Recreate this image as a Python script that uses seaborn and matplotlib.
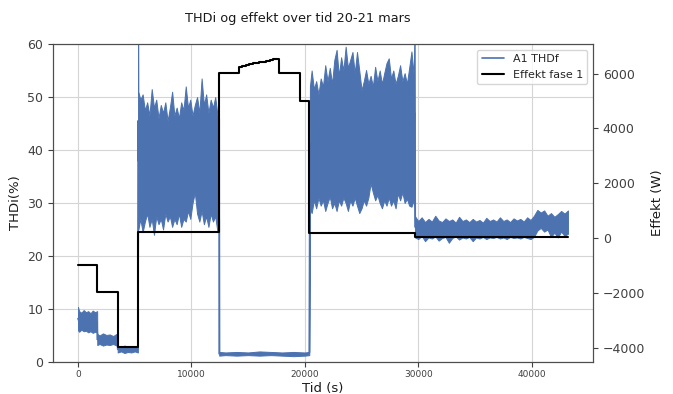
import numpy as np
import pandas as pd
import matplotlib
matplotlib.use("Agg")
import matplotlib.pyplot as plt
import seaborn as sns

# THD measurements: time (s) with lower / upper envelope of the fast-varying signal (%)
thd_t = [0, 100, 300, 500, 700, 900, 1100, 1300, 1500, 1690,
         1700, 1900, 2200, 2500, 2800, 3100, 3400, 3490,
         3500, 3800, 4100, 4400, 4700, 5000, 5280,
         5300, 5320, 5500, 5700, 5900, 6100, 6300, 6500, 6700, 6900, 7100, 7300, 7500,
         7700, 7900, 8100, 8300, 8500, 8700, 8900, 9100, 9300, 9500, 9700, 9900,
         10100, 10300, 10500, 10700, 10900, 11100, 11300, 11500, 11700, 11900,
         12100, 12300, 12440,
         12450, 13000, 14000, 15000, 16000, 17000, 18000, 19000, 20000, 20390,
         20450, 20600, 20800, 21000, 21200, 21400, 21600, 21800, 22000, 22200,
         22400, 22600, 22800, 23000, 23200, 23400, 23600, 23800, 24000, 24200,
         24400, 24600, 24800, 25000, 25200, 25400, 25600, 25800, 26000, 26200,
         26400, 26600, 26800, 27000, 27200, 27400, 27600, 27800, 28000, 28200,
         28400, 28600, 28800, 29000, 29200, 29400, 29600, 29680,
         29720, 30000, 30300, 30600, 30900, 31200, 31500, 31800, 32100, 32400,
         32700, 33000, 33300, 33600, 33900, 34200, 34500, 34800, 35100, 35400,
         35700, 36000, 36300, 36600, 36900, 37200, 37500, 37800, 38100, 38400,
         38700, 39000, 39300, 39600, 39900, 40200, 40500, 40800, 41100, 41400,
         41700, 42000, 42300, 42600, 42900, 43200]
thd_hi = [10.4, 9.6, 9.3, 9.8, 9.4, 9.6, 9.2, 9.7, 9.4, 9.6,
          5.3, 5.0, 5.4, 5.1, 5.2, 4.9, 5.3, 5.2,
          3.0, 2.8, 3.1, 2.9, 3.0, 2.8, 3.0,
          65, 51, 49.5, 50.5, 47.5, 49, 46.5, 51.5, 48, 49.5, 46, 48.5, 47,
          49, 45.5, 48, 51, 46.5, 48, 46, 49, 47.5, 52, 48, 49.5,
          46.5, 48.5, 50, 47, 53.5, 48.5, 50.5, 47, 49.5, 48,
          50, 46.5, 46,
          1.9, 1.8, 1.9, 1.8, 2.0, 1.9, 1.8, 1.9, 1.8, 1.9,
          52, 55, 51.5, 53, 50.5, 53.5, 52, 56, 53, 55.5,
          52.5, 57, 58.9, 54, 57.5, 55, 59.5, 55.5, 57, 58.5,
          54.5, 58.5, 55, 51.3, 53, 55.1, 52.5, 54, 52, 55.7,
          53, 55, 52.5, 54.5, 56.4, 57.3, 53.5, 55, 52.5, 54,
          56, 53, 54.5, 52.5, 55.5, 58.6, 54, 65,
          27.5, 26.6, 27.3, 26.4, 27.0, 26.5, 27.6, 26.7, 26.4, 27.1,
          26.6, 26.9, 26.3, 27.4, 26.6, 26.9, 26.4, 27.0, 26.5, 26.8,
          26.3, 27.2, 26.6, 26.9, 26.5, 27.3, 26.6, 26.9, 26.4, 27.1,
          26.7, 27.0, 26.5, 27.3, 26.8, 27.6, 28.7, 28.2, 28.6, 27.6,
          28.1, 27.4, 27.9, 28.5, 28.0, 28.6]
thd_lo = [6.0, 5.7, 6.1, 5.8, 5.9, 5.6, 5.8, 5.5, 5.7, 5.6,
          3.2, 3.4, 3.1, 3.3, 3.2, 3.4, 3.1, 3.2,
          1.8, 2.0, 1.7, 1.9, 1.8, 2.0, 1.8,
          26, 25, 27, 24.5, 26.5, 28, 25.5, 27, 24, 27.5, 26, 27, 25,
          28, 26.5, 27.5, 25.5, 27, 26, 28, 25.5, 27, 26.5, 28.5, 27,
          30, 32, 28, 26.5, 28.5, 26, 27.5, 25.5, 28, 26.5,
          27.5, 24.5, 27,
          1.2, 1.3, 1.2, 1.3, 1.2, 1.3, 1.2, 1.1, 1.2, 1.3,
          29, 28.1, 30.5, 29, 31, 29.5, 30.5, 28.5, 30, 31.2,
          29, 30, 28.5, 30.5, 29.5, 31, 30, 28.5, 30.5, 29.5,
          31, 29.5, 28.1, 29, 30.5, 29.5, 31, 33.7, 32, 30.5,
          31.5, 30, 29, 30.5, 29.5, 31, 29.5, 30.5, 29, 31.8,
          30.5, 32, 30, 30.8, 29.5, 29.3, 30.5, 29,
          23.5, 23.2, 23.8, 22.8, 23.5, 23.3, 23.7, 22.9, 23.4, 23.6,
          22.5, 23.4, 23.7, 23.1, 23.5, 23.3, 23.6, 22.8, 23.5, 23.3,
          23.6, 23.2, 23.5, 23.4, 23.6, 23.3, 23.5, 23.2, 23.6, 23.4,
          23.5, 23.3, 23.6, 23.4, 23.2, 23.6, 24.8, 25.3, 24.6, 25.0,
          23.6, 24.4, 23.5, 24.6, 23.8, 24.2]

# Phase 1 power (W), stepwise over time (s)
eff_t = [0, 1700, 3500, 5300, 12450, 14200, 14500, 14800, 15100, 15400, 15700,
         16000, 16300, 16600, 16900, 17200, 17500, 17760, 19600, 20400, 29700, 43200]
eff_w = [-985, -1980, -3970, 210, 6010, 6250, 6290, 6320, 6350, 6380, 6400,
         6420, 6440, 6470, 6490, 6520, 6550, 6010, 5000, 170, 25, 25]

x_ticks = [0, 10000, 20000, 30000, 40000]
thd_ticks = [0, 10, 20, 30, 40, 50, 60]

blue = "#4C72B0"

sns.set_style("ticks")
plt.rcParams["font.family"] = ["DejaVu Sans"]

fig = plt.figure(figsize=(6.73, 3.94), dpi=100)
ax = fig.add_axes([0.0788, 0.0812, 0.8022, 0.8071])

thd = pd.DataFrame({"t": np.concatenate([thd_t, thd_t]),
                    "v": np.concatenate([thd_lo, thd_hi])})
sns.lineplot(data=thd, x="t", y="v", ax=ax, estimator="mean",
             errorbar=("pi", 100), color=blue, lw=1.2,
             err_kws={"alpha": 1, "linewidth": 0.7, "edgecolor": blue},
             label="A1 THDf")

ax2 = ax.twinx()
sns.lineplot(x=eff_t, y=eff_w, ax=ax2, estimator=None, color="black",
             lw=1.5, drawstyle="steps-post", label="Effekt fase 1")

ax.set_xlim(-2200, 45400)
ax.set_ylim(0, 60)
ax2.set_ylim(-4525, 7080)
ax.set_xticks(x_ticks)
ax.set_yticks(thd_ticks)
ax.tick_params(axis="x", labelsize=6.5, colors="0.25", pad=2.5)
ax.tick_params(axis="y", labelsize=9, colors="0.25")
ax2.tick_params(axis="y", labelsize=9, colors="0.25")
ax.grid(True, color="#d5d5d5", lw=0.8)
ax2.grid(False)
for a in (ax, ax2):
    for s in a.spines.values():
        s.set_visible(True)
        s.set_color("0.3")

ax.set_xlabel("Tid (s)", fontsize=9.5, color="0.1", labelpad=2)
ax.set_ylabel("THDi(%)", fontsize=9.5, color="0.1")
ax2.set_ylabel("Effekt (W)", fontsize=9.5, color="0.1")

h1, l1 = ax.get_legend_handles_labels()
h2, l2 = ax2.get_legend_handles_labels()
ax.get_legend().remove()
ax2.legend(h1 + h2, l1 + l2, loc="upper right", fontsize=8)

fig.text(0.443, 0.952, "THDi og effekt over tid 20-21 mars",
         ha="center", va="center", fontsize=9.3, color="0.1")

fig.savefig("out.png", dpi=100)
